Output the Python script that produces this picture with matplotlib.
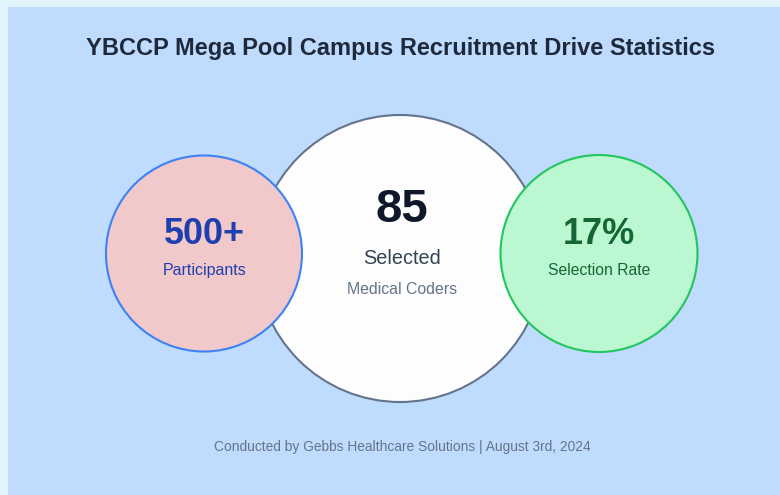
import matplotlib
matplotlib.use('Agg')
import matplotlib.pyplot as plt
from matplotlib.patches import Circle, Rectangle

plt.rcParams['font.family'] = ['Liberation Sans', 'DejaVu Sans']

title = "YBCCP Mega Pool Campus Recruitment Drive Statistics"
footer = "Conducted by Gebbs Healthcare Solutions | August 3rd, 2024"

# stat circles: value, label
values = ["500+", "85", "17%"]
labels = ["Participants", "Selected", "Selection Rate"]
center_sub = "Medical Coders"

fig = plt.figure(figsize=(7.8, 4.95), dpi=100)
fig.patch.set_facecolor('#e3f5fc')
ax = fig.add_axes([0, 0, 1, 1])
ax.set_xlim(0, 780)
ax.set_ylim(495, 0)
ax.axis('off')

# panel
ax.add_patch(Rectangle((8, 7), 780, 495, facecolor='#bfdbfe', edgecolor='none'))

ax.text(401, 49, title, ha='center', va='center', fontsize=17,
        fontweight='bold', color='#1e293b')

# big center circle drawn first
ax.add_patch(Circle((400, 258.5), 143.5, facecolor='#fdfdfd', edgecolor='#64748b', lw=1.5, zorder=2))
ax.add_patch(Circle((204, 253.5), 98, facecolor='#f2c9cb', edgecolor='#3b82f6', lw=1.5, zorder=3))
ax.add_patch(Circle((599, 253.5), 98.5, facecolor='#bbf7d0', edgecolor='#22c55e', lw=1.5, zorder=3))

ax.text(204.5, 234, values[0], ha='center', va='center', fontsize=25.8, fontweight='bold', color='#1e40af', zorder=4)
ax.text(205, 270.5, labels[0], ha='center', va='center', fontsize=11.5, color='#1e40af', zorder=4)

ax.text(401.5, 210.5, values[1], ha='center', va='center', fontsize=34, fontweight='bold', color='#0f172a', zorder=4)
ax.text(402, 258.5, labels[1], ha='center', va='center', fontsize=14.3, color='#334155', zorder=4)
ax.text(402, 289.5, center_sub, ha='center', va='center', fontsize=11.4, color='#64748b', zorder=4)

ax.text(598.5, 234, values[2], ha='center', va='center', fontsize=26, fontweight='bold', color='#166534', zorder=4)
ax.text(599, 270.5, labels[2], ha='center', va='center', fontsize=11.3, color='#166534', zorder=4)

ax.text(402, 447, footer, ha='center', va='center', fontsize=9.9, color='#64748b')

fig.savefig('out.png', dpi=100, facecolor=fig.get_facecolor())
